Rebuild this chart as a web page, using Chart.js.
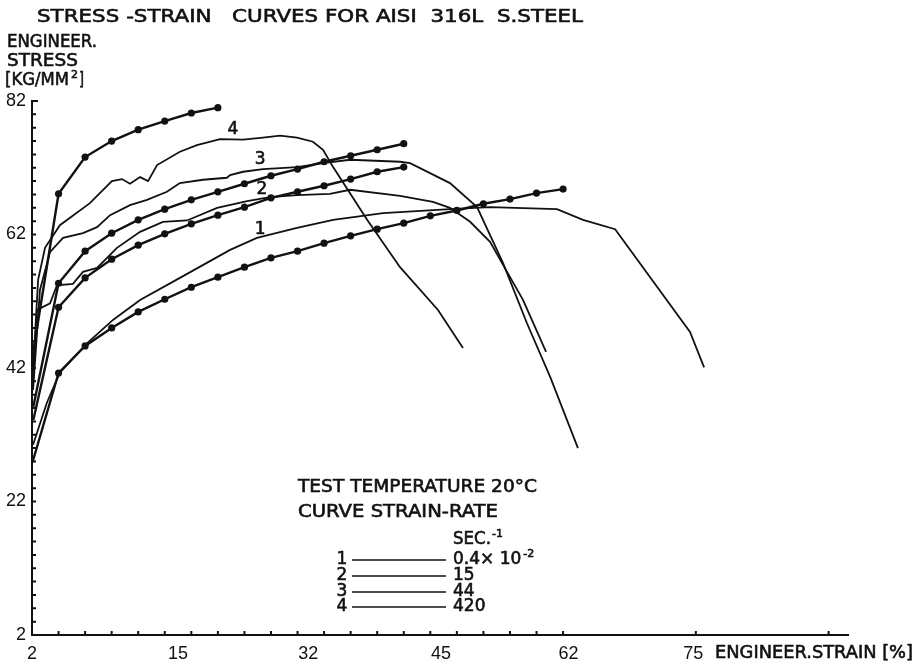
<!DOCTYPE html>
<html>
<head>
<meta charset="utf-8">
<script src="https://cdn.jsdelivr.net/npm/chart.js@4/dist/chart.umd.min.js"></script>
<style>
  body { margin: 0; background: #fff; }
  #wrap { width: 916px; height: 664px; }
</style>
</head>
<body>
<div id="wrap"><canvas id="chart" width="916" height="664"></canvas></div>
<script>
// x values are in axis divisions (one small tick = one division)
const strainTicks = [0, 5.5, 10.4, 15.4, 20.2, 24.9];
const strainTickLabels = ["2", "15", "32", "45", "62", "75"];
const strainMarks = [1, 2, 3, 4, 5, 6, 7, 8, 9, 10, 11, 12, 13, 14, 15, 16, 17, 18, 19, 20, 25, 30];
const stressTicks = [2, 22, 42, 62, 82];

// measured curves, strain-rate 1..4
const curve1X = [0.04, 0.56, 1.05, 2.07, 3.05, 4.07, 5.57, 7.46, 8.47, 9.98, 11.34, 13.22, 15.74, 17.25, 19.77, 20.75, 21.96, 24.78, 25.31];
const curve1Y = [30.5, 36.8, 41.3, 45.7, 49.2, 52.2, 55.5, 59.7, 61.5, 63.0, 64.2, 65.2, 65.8, 66.1, 65.8, 64.2, 62.8, 47.4, 42.1];
const curve2X = [0.04, 0.19, 0.68, 0.94, 1.54, 1.92, 2.45, 3.20, 4.07, 4.93, 5.84, 6.97, 8.10, 8.96, 9.98, 11.22, 11.98, 13.86, 15.10, 15.74, 16.50, 17.25, 17.89, 18.49, 19.36];
const curve2Y = [40.2, 50.7, 51.7, 54.4, 54.6, 56.4, 57.0, 60.0, 62.4, 63.9, 64.1, 66.0, 67.0, 67.6, 67.9, 68.1, 68.7, 67.8, 66.9, 66.0, 63.9, 60.9, 56.4, 52.2, 44.4];
const curve3X = [0.04, 0.30, 0.68, 1.17, 1.92, 2.45, 2.94, 3.69, 4.33, 5.08, 5.57, 6.44, 7.34, 7.46, 7.95, 8.70, 9.98, 10.96, 11.98, 13.86, 14.24, 15.74, 16.76, 17.74, 18.64, 19.51, 20.56];
const curve3Y = [38.7, 53.7, 59.4, 61.5, 62.2, 63.1, 64.9, 66.4, 67.2, 68.4, 69.7, 70.2, 70.5, 70.9, 71.4, 71.8, 72.1, 72.7, 73.2, 72.9, 72.7, 69.7, 66.1, 57.7, 48.7, 40.7, 30.0];
const curve4X = [0.04, 0.23, 0.49, 1.05, 2.18, 3.01, 3.39, 3.69, 4.07, 4.37, 4.71, 5.57, 6.21, 7.08, 7.95, 8.70, 9.34, 9.98, 10.58, 10.96, 11.34, 12.62, 13.86, 15.29, 16.23];
const curve4Y = [41.7, 55.2, 60.0, 63.4, 66.7, 70.0, 70.3, 69.6, 70.6, 70.0, 72.4, 74.4, 75.4, 76.3, 76.2, 76.5, 76.8, 76.5, 75.9, 74.7, 72.1, 64.2, 57.1, 50.7, 45.0];

// fitted curves with dots
const fitAX = [0.05, 1, 2, 3, 4, 5, 6, 7];
const fitAY = [44.5, 68.1, 73.6, 76.0, 77.7, 79.0, 80.2, 81.0];
const fitBX = [0.05, 1, 2, 3, 4, 5, 6, 7, 8, 9, 10, 11, 12, 13, 14];
const fitBY = [36.2, 54.7, 59.5, 62.2, 64.2, 65.8, 67.2, 68.4, 69.6, 70.8, 71.8, 72.9, 73.8, 74.7, 75.6];
const fitCX = [0.05, 1, 2, 3, 4, 5, 6, 7, 8, 9, 10, 11, 12, 13, 14];
const fitCY = [34.2, 51.1, 55.5, 58.3, 60.4, 62.1, 63.6, 64.9, 66.1, 67.5, 68.4, 69.3, 70.3, 71.4, 72.1];
const fitDX = [0.02, 1, 2, 3, 4, 5, 6, 7, 8, 9, 10, 11, 12, 13, 14, 15, 16, 17, 18, 19, 20];
const fitDY = [27.9, 41.25, 45.3, 48.0, 50.4, 52.3, 54.1, 55.6, 57.1, 58.5, 59.5, 60.7, 61.8, 62.8, 63.7, 64.8, 65.6, 66.6, 67.3, 68.2, 68.8];

// curve numbers written next to the curves
const curveLabels = ["4", "3", "2", "1"];
const curveLabelX = [7.57, 8.59, 8.66, 8.59];
const curveLabelY = [77.7, 73.2, 68.7, 62.7];

// legend block
const legendIds = ["1", "2", "3", "4"];
const legendRates = ["0.4\u00d7 10", "15", "44", "420"];
const legendExp = ["-2", "", "", ""];

const INK = "#111";
const FONT = "'DejaVu Sans', sans-serif";

function pts(xs, ys) {
    return xs.map((x, i) => ({ x: x, y: ys[i] }));
}

function thin(xs, ys) {
    return { data: pts(xs, ys), borderColor: INK, borderWidth: 1.8, pointRadius: 0, showLine: true, tension: 0 };
}

function dotted(xs, ys) {
    return {
        data: pts(xs, ys), borderColor: INK, backgroundColor: INK, borderWidth: 2.4,
        pointRadius: xs.map((x, i) => i === 0 ? 0 : 3.6), pointBorderWidth: 0, showLine: true, tension: 0
    };
}

// text squeezed/stretched to a given width, a little heavier than the plain font
function fitText(ctx, text, x, y, w) {
    const m = ctx.measureText(text).width;
    ctx.save();
    ctx.translate(x, y);
    ctx.scale(w / m, 1);
    ctx.fillText(text, 0, 0);
    ctx.lineWidth = 0.6;
    ctx.strokeText(text, 0, 0);
    ctx.restore();
}

function boldText(ctx, text, x, y) {
    ctx.fillText(text, x, y);
    ctx.lineWidth = 0.6;
    ctx.strokeText(text, x, y);
}

const decorations = {
    id: "decorations",
    afterDraw(chart) {
        const ctx = chart.ctx;
        const xs = chart.scales.x, ys = chart.scales.y;
        const area = chart.chartArea;

        // inward tick marks
        ctx.save();
        ctx.strokeStyle = INK;
        ctx.lineWidth = 2;
        ctx.beginPath();
        strainMarks.forEach(v => {
            const px = xs.getPixelForValue(v);
            ctx.moveTo(px, area.bottom);
            ctx.lineTo(px, area.bottom - 4);
        });
        for (let v = 2; v <= 82; v += 2) {
            const py = ys.getPixelForValue(v);
            ctx.moveTo(area.left, py);
            ctx.lineTo(area.left + (v === 82 ? 6 : 4), py);
        }
        ctx.stroke();

        ctx.fillStyle = INK;
        ctx.textBaseline = "middle";
        ctx.textAlign = "left";
        ctx.font = "18px " + FONT;
        fitText(ctx, "STRESS -STRAIN   CURVES FOR AISI  316L  S.STEEL", 37, 17, 546);
        fitText(ctx, "ENGINEER.", 7, 42, 90);
        fitText(ctx, "STRESS", 7, 61, 71);
        fitText(ctx, "[KG/MM", 5, 80, 64);
        ctx.font = "11px " + FONT;
        boldText(ctx, "2", 71, 75);
        ctx.font = "18px " + FONT;
        fitText(ctx, "]", 79, 80, 5);
        fitText(ctx, "ENGINEER.STRAIN [%]", 715, 653, 198);

        // curve numbers
        ctx.font = "17px " + FONT;
        ctx.textAlign = "center";
        curveLabels.forEach((t, i) => {
            boldText(ctx, t, xs.getPixelForValue(curveLabelX[i]), ys.getPixelForValue(curveLabelY[i]));
        });

        // legend
        ctx.textAlign = "left";
        ctx.font = "17px " + FONT;
        fitText(ctx, "TEST TEMPERATURE 20\u00b0C", 298, 488, 239);
        fitText(ctx, "CURVE STRAIN-RATE", 298, 513, 200);
        fitText(ctx, "SEC.", 453, 540, 38);
        ctx.font = "11px " + FONT;
        boldText(ctx, "-1", 492, 534);
        const rowY = [560, 576, 592, 607];
        legendIds.forEach((id, i) => {
            const y = rowY[i];
            ctx.font = "17px " + FONT;
            ctx.textAlign = "center";
            boldText(ctx, id, 342, y);
            ctx.beginPath();
            ctx.lineWidth = 1.4;
            ctx.moveTo(352, y);
            ctx.lineTo(446, y);
            ctx.stroke();
            ctx.textAlign = "left";
            boldText(ctx, legendRates[i], 453, y);
            if (legendExp[i]) {
                const w = ctx.measureText(legendRates[i]).width;
                ctx.font = "11px " + FONT;
                boldText(ctx, legendExp[i], 455 + w, y - 6);
            }
        });
        ctx.restore();
    }
};

new Chart(document.getElementById("chart"), {
    type: "scatter",
    data: {
        datasets: [
            thin(curve1X, curve1Y),
            thin(curve2X, curve2Y),
            thin(curve3X, curve3Y),
            thin(curve4X, curve4Y),
            dotted(fitAX, fitAY),
            dotted(fitBX, fitBY),
            dotted(fitCX, fitCY),
            dotted(fitDX, fitDY)
        ]
    },
    options: {
        responsive: false,
        animation: false,
        devicePixelRatio: 1,
        layout: { padding: { top: 101, right: 68, bottom: 0, left: 0 } },
        plugins: { legend: { display: false }, tooltip: { enabled: false } },
        scales: {
            x: {
                type: "linear", min: 0, max: 30.73,
                grid: { display: false, drawTicks: false },
                border: { display: true, color: INK, width: 2 },
                afterBuildTicks: s => { s.ticks = strainTicks.map(v => ({ value: v })); },
                afterFit: s => { s.height = 29; },
                ticks: {
                    autoSkip: false, maxRotation: 0, padding: 8, color: INK,
                    font: { family: "'Liberation Sans', sans-serif", size: 18 },
                    callback: (v, i) => strainTickLabels[i]
                }
            },
            y: {
                type: "linear", min: 2, max: 82,
                grid: { display: false, drawTicks: false },
                border: { display: true, color: INK, width: 2 },
                afterBuildTicks: s => { s.ticks = stressTicks.map(v => ({ value: v })); },
                afterFit: s => { s.width = 32; },
                ticks: {
                    autoSkip: false, padding: 6, color: INK,
                    font: { family: "'Liberation Sans', sans-serif", size: 18 },
                    callback: v => String(v)
                }
            }
        }
    },
    plugins: [decorations]
});
</script>
</body>
</html>
